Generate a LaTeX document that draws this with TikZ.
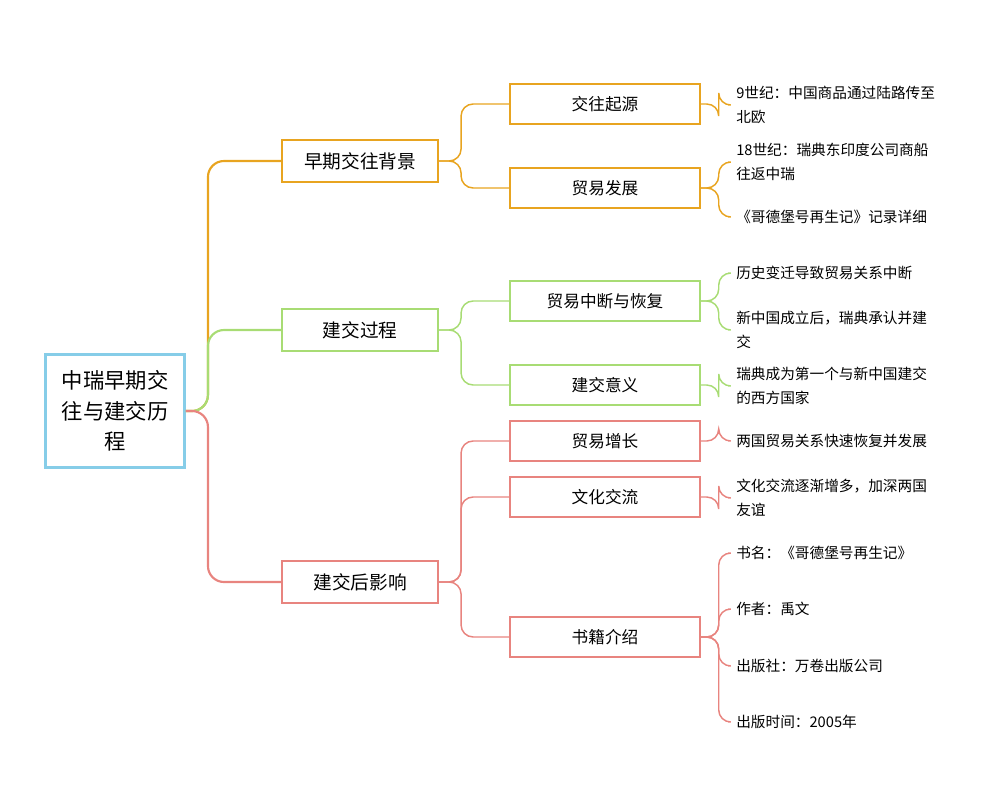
\documentclass[tikz,border=0pt]{standalone}
\usepackage{fontspec}
\setmainfont{Liberation Serif}
\newfontfamily\cjk{Noto Sans CJK SC}
\begin{document}
\begin{tikzpicture}[x=0.75pt,y=-0.75pt,
  every node/.style={font=\cjk},
  rootbox/.style={draw=cblue,line width=2.2pt,minimum width=139*0.75pt,minimum height=113*0.75pt,align=center,font=\cjk\fontsize{16}{23}\selectfont},
  lvone/.style={draw=#1,line width=1.6pt,minimum width=156*0.75pt,minimum height=42*0.75pt,font=\cjk\fontsize{14}{16}\selectfont},
  lvtwo/.style={draw=#1,line width=1.1pt,minimum width=190*0.75pt,minimum height=40*0.75pt,font=\cjk\fontsize{12.5}{15}\selectfont},
  leaf/.style={anchor=west,align=left,inner sep=0pt,font=\cjk\fontsize{11}{18}\selectfont},
  conn/.style={draw=#1,line width=1.1pt,rounded corners=9pt},
  thickconn/.style={draw=#1,line width=1.6pt,rounded corners=12pt}]
\definecolor{cblue}{HTML}{86CDE8}
\definecolor{corange}{HTML}{E8A420}
\definecolor{cgreen}{HTML}{A8DC74}
\definecolor{cred}{HTML}{E8847F}
\useasboundingbox (0,0) rectangle (1000,800);

\node[rootbox] (root) at (115,411) {中瑞早期交\\往与建交历\\程};

\node[lvone=corange] (a) at (360,161) {早期交往背景};
\node[lvone=cgreen] (b) at (360,330) {建交过程};
\node[lvone=cred] (c) at (360,582) {建交后影响};

\node[lvtwo=corange] (a1) at (605,104) {交往起源};
\node[lvtwo=corange] (a2) at (605,188) {贸易发展};
\node[lvtwo=cgreen] (b1) at (605,301) {贸易中断与恢复};
\node[lvtwo=cgreen] (b2) at (605,385) {建交意义};
\node[lvtwo=cred] (c1) at (605,441) {贸易增长};
\node[lvtwo=cred] (c2) at (605,497) {文化交流};
\node[lvtwo=cred] (c3) at (605,637) {书籍介绍};

\node[leaf] (a1x) at (736,105) {9世纪：中国商品通过陆路传至\\北欧};
\node[leaf] (a2x) at (736,162) {18世纪：瑞典东印度公司商船\\往返中瑞};
\node[leaf] (a2y) at (736,217) {《哥德堡号再生记》记录详细};
\node[leaf] (b1x) at (736,273) {历史变迁导致贸易关系中断};
\node[leaf] (b1y) at (736,330) {新中国成立后，瑞典承认并建\\交};
\node[leaf] (b2x) at (736,386) {瑞典成为第一个与新中国建交\\的西方国家};
\node[leaf] (c1x) at (736,441) {两国贸易关系快速恢复并发展};
\node[leaf] (c2x) at (736,498) {文化交流逐渐增多，加深两国\\友谊};
\node[leaf] (c3x) at (736,553) {书名：《哥德堡号再生记》};
\node[leaf] (c3y) at (736,609) {作者：禹文};
\node[leaf] (c3z) at (736,666) {出版社：万卷出版公司};
\node[leaf] (c3w) at (736,722) {出版时间：2005年};

% root to level 1
\path[thickconn=corange] (root.east) -- ++(22,0) |- (a.west);
\path[thickconn=cgreen] (root.east) -- ++(22,0) |- (b.west);
\path[thickconn=cred] (root.east) -- ++(22,0) |- (c.west);

% level1 to level2
\foreach \p/\k/\c in {a/a1/corange,a/a2/corange,b/b1/cgreen,b/b2/cgreen,c/c1/cred,c/c2/cred,c/c3/cred}
  \path[conn=\c] (\p.east) -- ++(22,0) |- (\k.west);

% level2 to leaves
\foreach \p/\k/\c in {a1/a1x/corange,a2/a2x/corange,a2/a2y/corange,b1/b1x/cgreen,b1/b1y/cgreen,b2/b2x/cgreen,c1/c1x/cred,c2/c2x/cred,c3/c3x/cred,c3/c3y/cred,c3/c3z/cred,c3/c3w/cred}
  \path[conn=\c] (\p.east) -- ++(18,0) |- ([xshift=-6]\k.west);
\end{tikzpicture}
\end{document}
